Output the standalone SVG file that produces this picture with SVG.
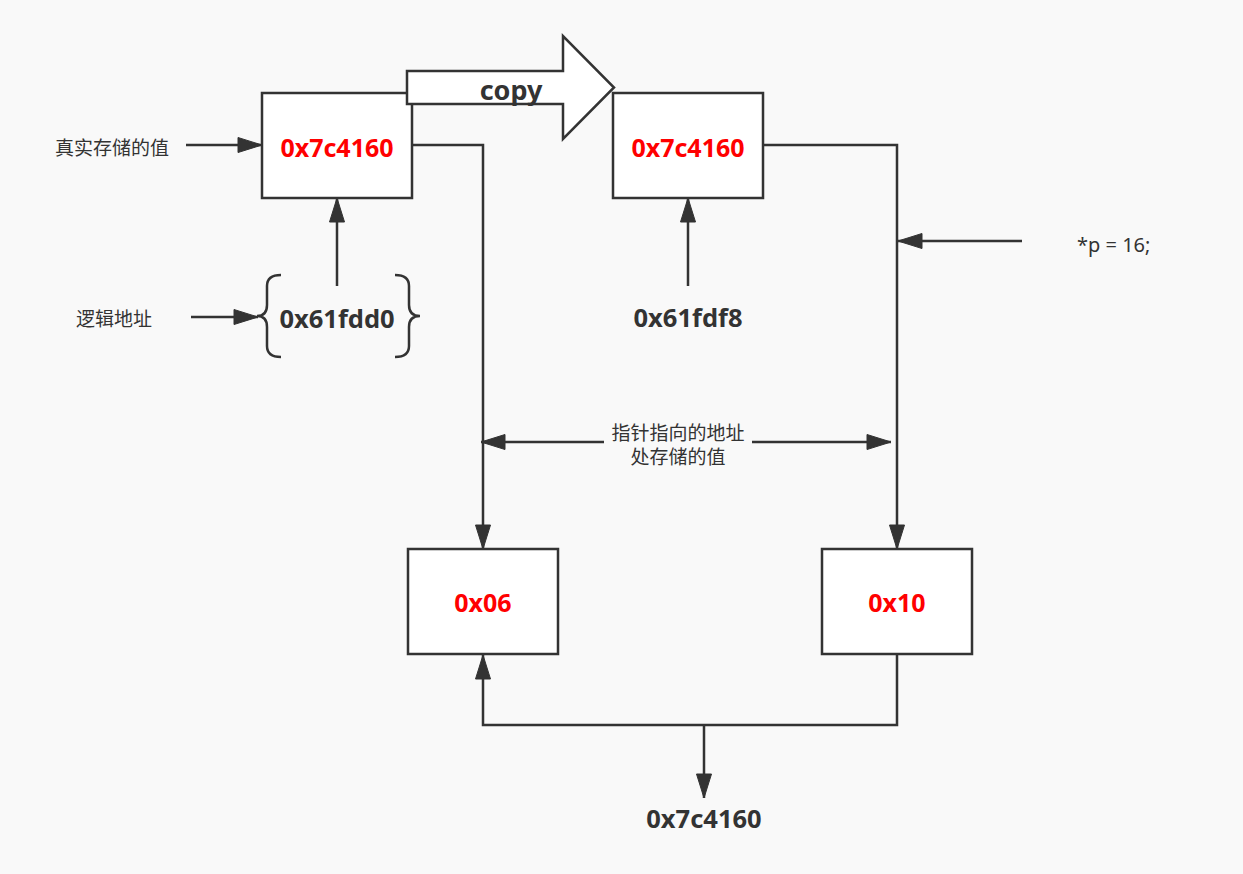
<svg xmlns="http://www.w3.org/2000/svg" width="1243" height="874" viewBox="0 0 1243 874">
<style>
.box{fill:#ffffff;stroke:#333333;stroke-width:2.5}
.ln{fill:none;stroke:#333333;stroke-width:2.5}
.val{font-family:"Noto Sans","Liberation Sans",sans-serif;font-weight:bold;font-size:25px;fill:#ff0000;text-anchor:middle}
.addr{font-family:"Noto Sans","Liberation Sans",sans-serif;font-weight:bold;font-size:25.5px;fill:#333333;text-anchor:middle}
.cn{font-family:"Noto Sans","Noto Sans CJK SC",sans-serif;font-size:19px;fill:#333333;text-anchor:middle}
</style>
<defs>
<marker id="ah" markerUnits="userSpaceOnUse" markerWidth="28" markerHeight="20" viewBox="0 0 28 20" refX="26" refY="10" orient="auto-start-reverse">
<path d="M2,2.5 L26,10 L2,17.5 Z" fill="#333333" stroke="#333333" stroke-width="1"/>
</marker>
</defs>
<rect width="1243" height="874" fill="#f9f9f9"/>
<g id="connectors">
<path class="ln" d="M186,145 L262,145" marker-end="url(#ah)"/>
<path class="ln" d="M337,286 L337,198" marker-end="url(#ah)"/>
<path class="ln" d="M191,317 L258,317" marker-end="url(#ah)"/>
<path class="ln" d="M412,145 L483,145 L483,549" marker-end="url(#ah)"/>
<path class="ln" d="M688,286 L688,198" marker-end="url(#ah)"/>
<path class="ln" d="M763,145 L897,145 L897,549" marker-end="url(#ah)"/>
<path class="ln" d="M1022,241 L898,241" marker-end="url(#ah)"/>
<path class="ln" d="M481,442 L891,442" marker-start="url(#ah)" marker-end="url(#ah)"/>
<path class="ln" d="M897,654 L897,725 L483,725 L483,655" marker-end="url(#ah)"/>
<path class="ln" d="M704,725 L704,798" marker-end="url(#ah)"/>
</g>
<g id="label-pointer">
<rect x="604" y="420" width="148" height="50" fill="#f9f9f9"/>
<text class="cn" x="678" y="440">指针指向的地址</text>
<text class="cn" x="678" y="464">处存储的值</text>
</g>
<g id="nodeA">
<rect class="box" x="262" y="93" width="150" height="105"/>
<text class="val" x="337" y="157">0x7c4160</text>
</g>
<g id="nodeB">
<rect class="box" x="613" y="93" width="150" height="105"/>
<text class="val" x="688" y="157">0x7c4160</text>
</g>
<g id="copyArrow">
<polygon points="407,71 563,71 563,36 614,87.5 563,139 563,104 407,104" fill="#ffffff" stroke="#333333" stroke-width="2.5" stroke-linejoin="miter"/>
<text x="511" y="100" font-family="Noto Sans, Liberation Sans, sans-serif" font-weight="bold" font-size="27" fill="#333333" text-anchor="middle">copy</text>
</g>
<g id="nodeC">
<rect class="box" x="408" y="549" width="150" height="105"/>
<text class="val" x="483" y="612">0x06</text>
</g>
<g id="nodeD">
<rect class="box" x="822" y="549" width="150" height="105"/>
<text class="val" x="897" y="612">0x10</text>
</g>
<g id="label-real">
<text class="cn" x="112" y="155">真实存储的值</text>
</g>
<g id="label-logic">
<text class="cn" x="114" y="326">逻辑地址</text>
</g>
<g id="brace-addr">
<path class="ln" d="M281,275 Q267,275 267,286 L267,305 Q267,316 257,316 Q267,316 267,327 L267,346 Q267,357 281,357"/>
<path class="ln" d="M395,275 Q409,275 409,286 L409,305 Q409,316 420,316 Q409,316 409,327 L409,346 Q409,357 395,357"/>
<text class="addr" x="337" y="328">0x61fdd0</text>
</g>
<g id="label-addrB">
<text class="addr" x="688" y="327">0x61fdf8</text>
</g>
<g id="label-assign">
<text x="1077" y="252" font-family="Noto Sans, Liberation Sans, sans-serif" font-size="20" fill="#333333">*p = 16;</text>
</g>
<g id="label-bottom">
<text class="addr" x="704" y="828">0x7c4160</text>
</g>
</svg>
